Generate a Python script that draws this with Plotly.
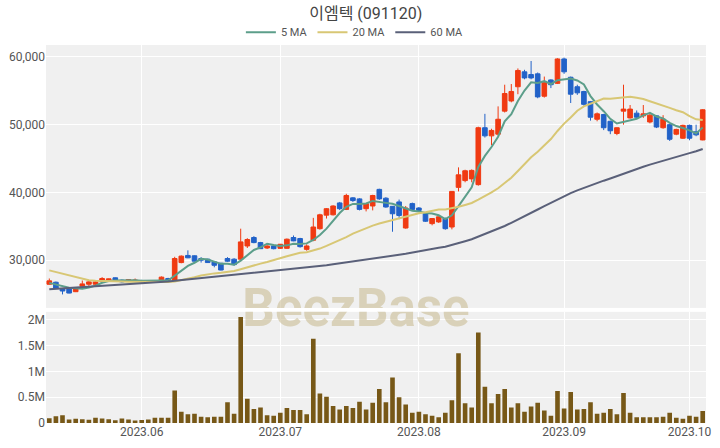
import pandas as pd
import plotly.graph_objects as go

# ---- data -------------------------------------------------------------
# KRX trading sessions, 2023-05-11 .. 2023-10-06 (exchange holidays removed)
holidays = ["2023-05-29", "2023-06-06", "2023-08-15", "2023-09-28",
            "2023-09-29", "2023-10-02", "2023-10-03"]
sessions = pd.bdate_range("2023-05-11", "2023-10-06")
dates = [d for d in sessions if d.strftime("%Y-%m-%d") not in holidays]

open_ = [26450, 26750, 25750, 25850, 25350, 26150, 26450, 26450, 26850, 26900,
         27400, 27050, 26850, 26900, 27000, 27000, 27000, 26950, 27300, 27000,
         29650, 30700, 30650, 30250, 30150, 29750, 29550, 30250, 30150, 30150,
         32100, 33350, 32600, 31800, 32100, 31750, 31750, 33350, 33200, 31600,
         32950, 34650, 36650, 36700, 38450, 37500, 39200, 39050, 37600, 38000,
         40450, 39150, 37950, 38600, 34750, 38350, 37700, 36850, 35400, 35650,
         36150, 34900, 40750, 41750, 42000, 41150, 49550, 48350, 48600, 52000,
         53500, 55600, 57800, 57400, 57500, 54200, 56600, 56100, 59700, 57000,
         55600, 54900, 53400, 50800, 51500, 50500, 48700, 52000, 51000, 51700,
         51300, 50400, 51300, 49550, 50000, 48600, 48000, 49900, 48950, 47750]

high = [27300, 26850, 25800, 25900, 26000, 27000, 27000, 26900, 27500, 27300,
        27450, 27150, 27200, 27300, 27100, 27050, 27050, 27600, 27400, 30500,
        30700, 31450, 30700, 30450, 30200, 29850, 29600, 30450, 30300, 34650,
        33250, 33550, 32700, 32200, 32200, 32400, 33200, 33650, 33300, 32350,
        36250, 36850, 37700, 38100, 38600, 39800, 39300, 39150, 38400, 39650,
        40550, 39300, 38000, 38950, 38000, 38500, 37850, 36950, 36200, 36450,
        36300, 40200, 43700, 43350, 43400, 49700, 51600, 49400, 52700, 55900,
        56000, 58300, 58100, 59400, 57700, 57100, 56700, 59800, 59900, 57100,
        55900, 55000, 53500, 51800, 51600, 50600, 49600, 55900, 52900, 52100,
        52900, 51600, 51400, 51400, 50100, 49400, 50000, 50000, 50000, 52300]

low = [26400, 25800, 24950, 25100, 25300, 26100, 26150, 26300, 26800, 26850,
       26850, 26700, 26800, 26850, 26750, 26750, 26700, 26900, 26950, 26950,
       29550, 30300, 29800, 29650, 29600, 28950, 28500, 29750, 29200, 30000,
       31800, 32500, 31650, 31650, 31600, 31650, 31700, 32800, 31850, 31400,
       32800, 34500, 36150, 36600, 37400, 37400, 38600, 37350, 37200, 37350,
       38900, 37750, 34200, 36050, 34650, 37400, 37200, 35650, 35150, 35500,
       34500, 34550, 40150, 41500, 41500, 41000, 48100, 47000, 48400, 51800,
       53300, 54500, 56700, 56700, 53900, 54000, 55400, 56000, 57500, 53200,
       54400, 52800, 50600, 50500, 49200, 48600, 48450, 50000, 50900, 51000,
       51000, 50200, 49500, 49400, 47600, 48450, 47900, 47700, 48300, 47700]

close = [26950, 25850, 25450, 25150, 25950, 26500, 26800, 26800, 27300, 27250,
         26950, 26800, 27150, 27050, 26850, 26850, 26800, 27500, 27050, 30250,
         30600, 30350, 29850, 30000, 29650, 29250, 28550, 29850, 29350, 32700,
         33050, 32600, 31700, 32100, 31700, 32350, 33100, 32850, 32000, 32100,
         34900, 36700, 37600, 38000, 37600, 39550, 38800, 37500, 38350, 39550,
         39050, 37850, 36850, 36600, 37700, 37500, 37350, 35750, 36150, 36400,
         34650, 40150, 42600, 43200, 43250, 49550, 48350, 49150, 50800, 54600,
         54900, 58000, 56900, 56900, 54100, 56200, 55900, 59700, 57800, 54500,
         54700, 53000, 51100, 51600, 49550, 49100, 49550, 52300, 52300, 51100,
         51600, 51400, 49650, 50800, 47850, 49300, 49900, 48000, 48500, 52200]

volume = [90000, 130000, 150000, 70000, 80000, 75000, 65000, 100000, 85000, 75000,
          55000, 85000, 70000, 50000, 60000, 70000, 100000, 100000, 100000, 630000,
          220000, 170000, 180000, 120000, 110000, 120000, 120000, 400000, 180000, 2050000,
          470000, 270000, 300000, 150000, 140000, 200000, 290000, 250000, 250000, 170000,
          1630000, 570000, 510000, 330000, 260000, 330000, 290000, 410000, 260000, 390000,
          660000, 400000, 880000, 500000, 360000, 200000, 220000, 170000, 140000, 110000,
          200000, 440000, 1350000, 380000, 300000, 1750000, 700000, 380000, 560000, 660000,
          300000, 380000, 220000, 320000, 390000, 240000, 140000, 620000, 280000, 600000,
          260000, 270000, 400000, 180000, 200000, 270000, 170000, 580000, 200000, 110000,
          110000, 110000, 110000, 120000, 200000, 100000, 80000, 140000, 120000, 230000]

# moving-average values on the first sessions, where the window reaches
# back before the displayed period
ma5_head = [26650, 26400, 26150, 25950]
ma20_head = [28500, 28250, 28000, 27750, 27500, 27250, 27050, 26950, 26900, 26880,
             26860, 26840, 26820, 26800, 26790, 26780, 26770, 26780, 26800]
ma60_head = [25700, 25760, 25820, 25880, 25940, 26000, 26070, 26130, 26200, 26260,
             26330, 26390, 26450, 26520, 26580, 26650, 26720, 26790, 26860, 26950,
             27050, 27150, 27240, 27330, 27420, 27510, 27600, 27700, 27790, 27890,
             27990, 28090, 28190, 28290, 28390, 28490, 28590, 28690, 28790, 28890,
             29000, 29130, 29260, 29390, 29520, 29650, 29790, 29930, 30070, 30210,
             30350, 30500, 30650, 30800, 30950, 31150, 31320, 31490, 31660]

price_ticks = [30000, 40000, 50000, 60000]
vol_ticks = [0, 500000, 1000000, 1500000, 2000000]
vol_labels = ["0", "0.5M", "1M", "1.5M", "2M"]
title_text = "이엠텍 (091120)"
watermark = "BeezBase"


def moving_average(values, window, head):
    s = pd.Series(values, dtype=float).rolling(window).mean()
    s.iloc[:window - 1] = head
    return s


ma5 = moving_average(close, 5, ma5_head)
ma20 = moving_average(close, 20, ma20_head)
ma60 = moving_average(close, 60, ma60_head)

# first session of every month after the first one -> x ticks
month_ticks = []
for i in range(1, len(dates)):
    if dates[i].month != dates[i - 1].month:
        month_ticks.append(dates[i])
month_labels = [d.strftime("%Y.%m") for d in month_ticks]

# ---- styling ----------------------------------------------------------
UP = "#F03A12"
DOWN = "#2262C8"
VOL = "#775817"
BG = "#F0F0F0"
FONT = "Roboto, 'Noto Sans CJK KR', sans-serif"
MA_STYLE = [("5 MA", ma5, "#5C9E8A"), ("20 MA", ma20, "#D8C774"), ("60 MA", ma60, "#5A6079")]

price_range = [22960, 61760]
vol_range = [0, 2150000]
half_day = pd.Timedelta(hours=12)
x_range = [dates[0] - half_day, dates[-1] + half_day]

fig = go.Figure()

# faint brand mark across the two panels (clipped to each panel)
wm_x = dates[46] + pd.Timedelta(hours=11)
wm_font = dict(family="Roboto, sans-serif", size=51, weight="bold",
               color="rgba(198,184,140,0.55)")
fig.add_trace(go.Scatter(x=[wm_x], y=[price_range[0] - 600], mode="text", text=[watermark],
                         textfont=wm_font, textposition="middle center",
                         hoverinfo="skip", showlegend=False, xaxis="x", yaxis="y"))
fig.add_trace(go.Scatter(x=[wm_x], y=[vol_range[1] - 20000], mode="text", text=[watermark],
                         textfont=wm_font, textposition="middle center",
                         hoverinfo="skip", showlegend=False, xaxis="x2", yaxis="y2"))

fig.add_trace(go.Candlestick(
    x=dates, open=open_, high=high, low=low, close=close,
    increasing=dict(line=dict(color=UP, width=1), fillcolor=UP),
    decreasing=dict(line=dict(color=DOWN, width=1), fillcolor=DOWN),
    whiskerwidth=0, showlegend=False, name="price", xaxis="x", yaxis="y"))

for name, series, color in MA_STYLE:
    fig.add_trace(go.Scatter(x=dates, y=series, mode="lines", name=name,
                             line=dict(color=color, width=2), xaxis="x", yaxis="y"))

fig.add_trace(go.Bar(x=dates, y=volume, marker=dict(color=VOL, line=dict(width=0)),
                     showlegend=False, name="volume", xaxis="x2", yaxis="y2"))

rangebreaks = [dict(bounds=["sat", "mon"]), dict(values=holidays)]
tick_font = dict(family=FONT, size=12, color="#555555")

fig.update_layout(
    width=720, height=448,
    margin=dict(l=45, r=9, t=45, b=22),
    paper_bgcolor="white", plot_bgcolor=BG,
    font=dict(family=FONT, color="#555555"),
    title=dict(text=title_text, x=0.508, xanchor="center", y=0.969, yanchor="middle",
               font=dict(family=FONT, size=16, color="#444444")),
    legend=dict(orientation="h", x=0.468, xanchor="center", y=1.034, yanchor="middle",
                font=dict(family=FONT, size=11, color="#555555"),
                bgcolor="rgba(0,0,0,0)", itemwidth=30),
    bargap=0.3,
    boxgap=0.3, boxgroupgap=0,
    showlegend=True,
    xaxis=dict(type="date", domain=[0, 1], anchor="y", range=x_range,
               rangebreaks=rangebreaks, rangeslider=dict(visible=False),
               tickvals=month_ticks, ticktext=month_labels, showticklabels=False,
               showgrid=True, gridcolor="white", gridwidth=1, zeroline=False),
    yaxis=dict(domain=[0.3045, 1], anchor="x", range=price_range,
               tickvals=price_ticks, tickformat=",d", tickfont=tick_font,
               showgrid=True, gridcolor="white", gridwidth=1, zeroline=False),
    xaxis2=dict(type="date", domain=[0, 1], anchor="y2", matches="x", range=x_range,
                rangebreaks=rangebreaks, tickvals=month_ticks, ticktext=month_labels,
                tickfont=tick_font, showgrid=True, gridcolor="white", gridwidth=1,
                zeroline=False),
    yaxis2=dict(domain=[0, 0.294], anchor="x2", range=vol_range,
                tickvals=vol_ticks, ticktext=vol_labels, tickfont=tick_font,
                showgrid=True, gridcolor="white", gridwidth=1, zeroline=False),
)

fig.write_html("out.html")
